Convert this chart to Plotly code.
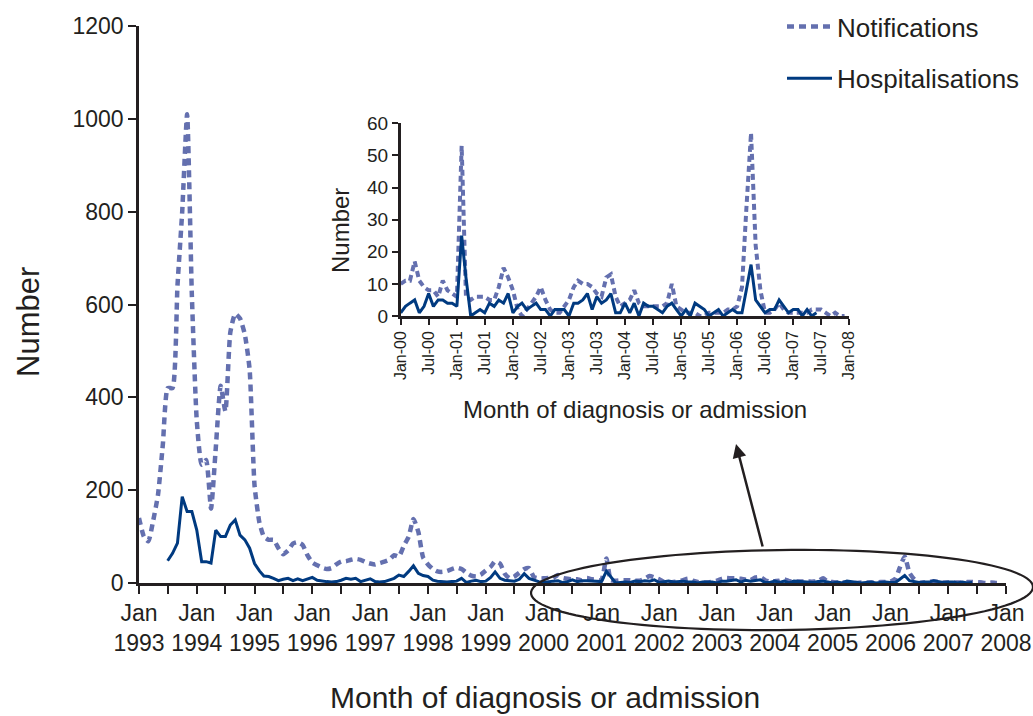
import numpy as np
import pandas as pd
import plotly.graph_objects as go

# ---------------- DATA ----------------
# Monthly notifications, Jan 1993 - Dec 1999
notif_1993_1999 = [
    140, 100, 90, 135, 190, 300, 420, 420, 640, 800, 1010, 620,   # 1993
    350, 255, 265, 160, 290, 425, 370, 540, 580, 570, 535, 460,   # 1994
    210, 130, 100, 93, 93, 75, 62, 70, 85, 88, 82, 60,            # 1995
    44, 38, 33, 30, 32, 40, 46, 47, 50, 52, 50, 45,               # 1996
    42, 40, 43, 46, 50, 60, 57, 80, 100, 138, 110, 55,            # 1997
    40, 30, 25, 24, 26, 30, 33, 30, 22, 16, 14, 18,               # 1998
    27, 35, 47, 42, 20, 10, 14, 22, 30, 32, 13, 10,               # 1999
]
# Monthly notifications, Jan 2000 - Dec 2007
notif_2000_2007 = [
    10, 11, 11, 17, 11, 9, 8, 8, 6, 11, 8, 7,     # 2000
    6, 53, 6, 5, 6, 6, 6, 5, 5, 9, 15, 12,        # 2001
    8, 2, 0, 2, 4, 6, 9, 5, 2, 1, 1, 3,           # 2002
    5, 9, 11, 10, 10, 9, 7, 6, 12, 13, 6, 3,      # 2003
    4, 5, 8, 4, 3, 3, 3, 3, 3, 4, 10, 3,          # 2004
    2, 1, 1, 1, 0, 0, 1, 1, 1, 1, 2, 2,           # 2005
    3, 9, 33, 57, 22, 8, 1, 1, 2, 4, 2, 1,        # 2006
    1, 1, 1, 1, 2, 2, 2, 1, 0, 1, 0, 0,           # 2007
]
# Monthly hospitalisations, Jul 1993 - Dec 1999
hosp_1993_1999 = [
    48, 64, 86, 186, 154, 154,                        # 1993 (Jul-Dec)
    114, 46, 46, 43, 114, 100, 100, 125, 136, 103, 93, 75,  # 1994
    42, 26, 15, 14, 10, 5, 8, 10, 5, 9, 5, 8,         # 1995
    12, 6, 4, 3, 2, 3, 6, 10, 8, 10, 3, 6,            # 1996
    9, 3, 2, 3, 6, 10, 17, 14, 25, 37, 21, 16,        # 1997
    14, 6, 4, 3, 2, 3, 4, 10, 1, 4, 6, 3,             # 1998
    4, 12, 24, 10, 6, 5, 4, 8, 20, 10, 6, 3,          # 1999
]
# Monthly hospitalisations, Jan 2000 - Jun 2007
hosp_2000_2007 = [
    1, 3, 4, 5, 1, 3, 7, 3, 5, 5, 4, 4,     # 2000
    3, 25, 12, 0, 1, 2, 1, 4, 3, 5, 4, 7,   # 2001
    1, 3, 4, 2, 3, 4, 2, 2, 0, 2, 2, 2,     # 2002
    0, 4, 4, 5, 7, 2, 6, 4, 5, 7, 1, 1,     # 2003
    4, 1, 4, 0, 4, 3, 3, 2, 1, 3, 4, 2,     # 2004
    0, 2, 0, 4, 3, 2, 0, 1, 2, 0, 1, 2,     # 2005
    1, 1, 8, 16, 5, 3, 1, 2, 2, 5, 3, 1,    # 2006
    2, 2, 0, 2, 0, 1,                       # 2007 (Jan-Jun)
]

main_tick_dates = pd.date_range("1993-01-01", "2008-01-01", freq="6MS")
main_tick_text = [f"Jan<br>{d.year}" if d.month == 1 else "" for d in main_tick_dates]
inset_tick_dates = pd.date_range("2000-01-01", "2008-01-01", freq="6MS")
inset_tick_text = [d.strftime("%b-%y") for d in inset_tick_dates]

notif_all = notif_1993_1999 + notif_2000_2007
hosp_all = hosp_1993_1999 + hosp_2000_2007
notif_dates = pd.date_range("1993-01-01", periods=len(notif_all), freq="MS")
hosp_dates = pd.date_range("1993-07-01", periods=len(hosp_all), freq="MS")
inset_notif_dates = pd.date_range("2000-01-01", periods=len(notif_2000_2007), freq="MS")
inset_hosp_dates = pd.date_range("2000-01-01", periods=len(hosp_2000_2007), freq="MS")

# ---------------- STYLE ----------------
NOTIF = "#6470AF"
HOSP = "#003A80"
INK = "#231F20"
FONT = "Arial, Liberation Sans, sans-serif"
W, H = 1033, 716


def px2paper(px, py):
    return px / W, 1 - py / H


fig = go.Figure()
fig.add_trace(go.Scatter(x=notif_dates, y=notif_all, mode="lines", name="Notifications",
                         legendgroup="n",
                         line=dict(color=NOTIF, width=4.5, dash="7px,5px", shape="spline", smoothing=0.5)))
fig.add_trace(go.Scatter(x=hosp_dates, y=hosp_all, mode="lines", name="Hospitalisations",
                         legendgroup="h", line=dict(color=HOSP, width=3)))
fig.add_trace(go.Scatter(x=inset_notif_dates, y=notif_2000_2007, mode="lines", showlegend=False,
                         xaxis="x2", yaxis="y2",
                         line=dict(color=NOTIF, width=4, dash="6px,4px")))
fig.add_trace(go.Scatter(x=inset_hosp_dates, y=hosp_2000_2007, mode="lines", showlegend=False,
                         xaxis="x2", yaxis="y2", line=dict(color=HOSP, width=3)))

mx0, my0 = px2paper(139, 583)
mx1, my1 = px2paper(1006, 26)
ix0, iy0 = px2paper(400.7, 316)
ix1, iy1 = px2paper(849.3, 123.3)

axis_common = dict(showline=True, linecolor=INK, linewidth=2.5, ticks="outside",
                   tickcolor=INK, tickwidth=2, showgrid=False, zeroline=False, automargin=False,
                   ticklabeloverflow="allow")

fig.update_layout(
    width=W, height=H,
    margin=dict(l=0, r=0, t=0, b=0, autoexpand=False),
    paper_bgcolor="white", plot_bgcolor="rgba(0,0,0,0)",
    font=dict(family=FONT, color=INK),
    xaxis=dict(domain=[mx0, mx1], range=["1993-01-01", "2008-01-01"], tickvals=main_tick_dates,
               ticktext=main_tick_text, ticklen=8, tickfont=dict(size=23), anchor="y",
               tickangle=0, **axis_common),
    yaxis=dict(domain=[my0, my1], range=[0, 1200], dtick=200, ticklen=8, tickfont=dict(size=23),
               anchor="x", **axis_common),
    xaxis2=dict(domain=[ix0, ix1], range=["2000-01-01", "2008-01-01"], tickvals=inset_tick_dates,
                ticktext=inset_tick_text, tickangle=-90, ticklen=6, tickfont=dict(size=16),
                anchor="y2", **axis_common),
    yaxis2=dict(domain=[iy0, iy1], range=[0, 60], dtick=10, ticklen=6, tickfont=dict(size=19),
                anchor="x2", **axis_common),
    legend=dict(x=px2paper(782, 0)[0], y=px2paper(0, 3)[1], xanchor="left", yanchor="top",
                font=dict(size=26, color=INK), bgcolor="rgba(0,0,0,0)",
                traceorder="grouped", tracegroupgap=15, itemwidth=45),
    showlegend=True,
)

# Titles as annotations
annos = []
x, y = px2paper(28, 322)
annos.append(dict(x=x, y=y, xref="paper", yref="paper", text="Number", textangle=-90,
                  xanchor="center", yanchor="middle",
                  showarrow=False, font=dict(size=31, color=INK)))
x, y = px2paper(545, 697)
annos.append(dict(x=x, y=y, xref="paper", yref="paper", text="Month of diagnosis or admission",
                  xanchor="center", yanchor="middle",
                  showarrow=False, font=dict(size=30, color=INK)))
x, y = px2paper(341, 231)
annos.append(dict(x=x, y=y, xref="paper", yref="paper", text="Number", textangle=-90,
                  xanchor="center", yanchor="middle",
                  showarrow=False, font=dict(size=24, color=INK)))
x, y = px2paper(635, 409)
annos.append(dict(x=x, y=y, xref="paper", yref="paper", text="Month of diagnosis or admission",
                  xanchor="center", yanchor="middle",
                  showarrow=False, font=dict(size=24, color=INK)))
# arrow from ellipse to inset
x, y = px2paper(736, 444)
annos.append(dict(x=x, y=y, xref="paper", yref="paper", ax=27, ay=104, axref="pixel", ayref="pixel",
                  text="", showarrow=True, arrowhead=2, arrowsize=1.1, arrowwidth=2.5, arrowcolor=INK))
fig.update_layout(annotations=annos)

# ellipse around 2000-2008 region
cx, cy, a, b, th = 782, 590, 251, 40, np.deg2rad(0.7)
t = np.linspace(0, 2 * np.pi, 120)
ex = cx + a * np.cos(t) * np.cos(th) + b * np.sin(t) * np.sin(th)
ey = cy - a * np.cos(t) * np.sin(th) + b * np.sin(t) * np.cos(th)
pts = [px2paper(px, py) for px, py in zip(ex, ey)]
path = "M " + " L ".join(f"{p[0]:.5f},{p[1]:.5f}" for p in pts) + " Z"
fig.add_shape(type="path", path=path, xref="paper", yref="paper",
              line=dict(color=INK, width=2.2), layer="above")

fig.write_html("out.html", config={"displayModeBar": False},
               post_script="document.body.style.margin='0';document.body.style.overflow='hidden';")
